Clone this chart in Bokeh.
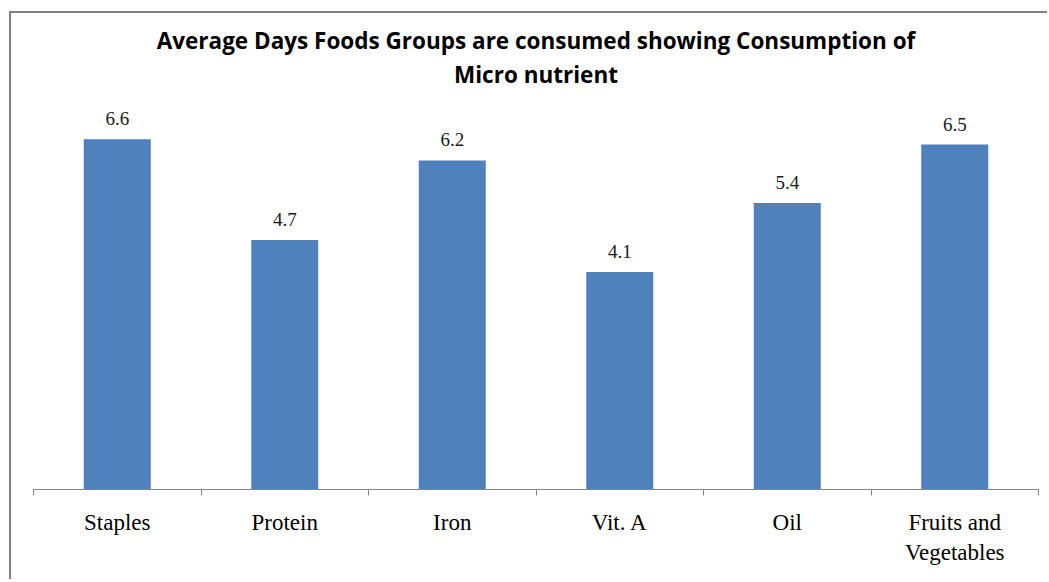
from bokeh.plotting import figure
from bokeh.models import (ColumnDataSource, Range1d, LinearAxis,
                          FixedTicker, LabelSet, Title)
from bokeh.embed import file_html
from bokeh.resources import INLINE

# Food groups and the average number of days each is consumed
categories = ["Staples", "Protein", "Iron", "Vit. A", "Oil", "Fruits and Vegetables"]
tick_labels = ["Staples", "Protein", "Iron", "Vit. A", "Oil", "Fruits and\nVegetables"]
avg_days = [6.6, 4.7, 6.2, 4.1, 5.4, 6.5]

title_lines = ["Average Days Foods Groups are consumed showing Consumption of",
               "Micro nutrient"]

BAR = "#4F81BD"
GREY = "#868686"
BORDER = "#808080"

# each category occupies one unit slot; bars sit in the middle of their slot
n = len(categories)
centres = [i + 0.5 for i in range(n)]
bounds = [float(i) for i in range(n + 1)]

source = ColumnDataSource(dict(
    x=centres,
    cat=categories,
    days=avg_days,
    label=[f"{v:.1f}" for v in avg_days],
))

p = figure(
    width=1038, height=568,
    x_range=Range1d(0, n),
    y_range=Range1d(0, 7.5),
    x_axis_location=None, y_axis_location=None,
    output_backend="svg", toolbar_location=None, tools="",
    title=None,
    min_border_left=22, min_border_right=11,
    min_border_top=78, min_border_bottom=92,
)
# chart-area frame: grey rule along the left and top edges
p.margin = (11, 0, 0, 9)
p.styles = {"border-left": f"2px solid {BORDER}", "border-top": f"2px solid {BORDER}"}

p.grid.visible = False
p.outline_line_color = None
p.background_fill_color = "white"
p.border_fill_color = "white"

# Two centred title lines (the one added first sits next to the plot)
for txt, standoff in ((title_lines[1], 3), (title_lines[0], 0)):
    p.add_layout(Title(
        text=txt, align="center", standoff=standoff,
        text_font="Open Sans", text_font_style="bold",
        text_font_size="22.5px", text_color="black",
    ), "above")

# Bars
p.vbar(x="x", top="days", width=0.4, source=source,
       fill_color=BAR, line_color=None)

# Value labels above bars
p.add_layout(LabelSet(
    x="x", y="days", text="label", source=source,
    text_align="center", text_baseline="alphabetic", y_offset=14,
    text_font="Liberation Serif", text_font_size="19px", text_color="#1a1a1a",
))

# Category axis: boundary ticks as minor ticks, names at category centres
xaxis = LinearAxis(
    ticker=FixedTicker(ticks=centres, minor_ticks=bounds),
    major_label_overrides={c: t for c, t in zip(centres, tick_labels)},
)
xaxis.axis_line_color = GREY
xaxis.axis_line_width = 1
xaxis.major_tick_line_color = None
xaxis.minor_tick_line_color = GREY
xaxis.minor_tick_in = 0
xaxis.minor_tick_out = 6
xaxis.major_label_standoff = 14
xaxis.major_label_text_font = "Liberation Serif"
xaxis.major_label_text_font_size = "23px"
xaxis.major_label_text_color = "black"
p.add_layout(xaxis, "below")

open("out.html", "w").write(file_html(p, INLINE))
